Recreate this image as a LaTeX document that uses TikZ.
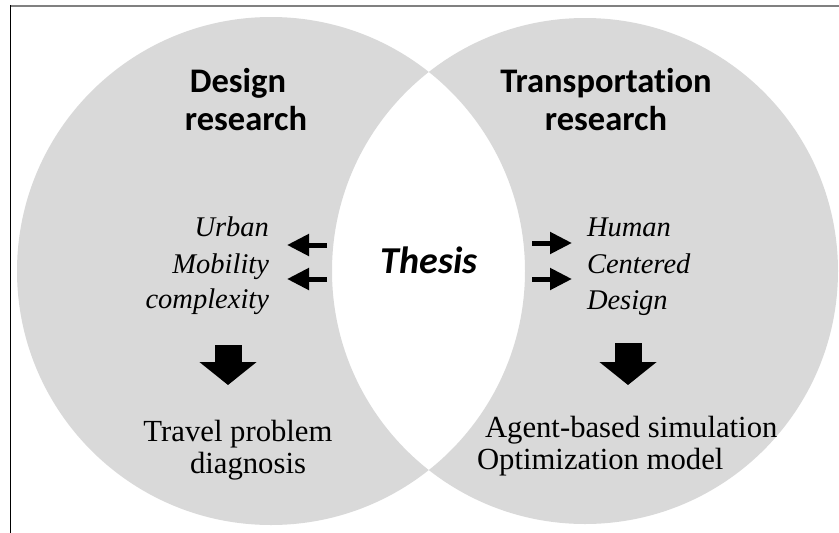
\documentclass[tikz,border=0pt]{standalone}
\usepackage{fontspec}
\setmainfont{Liberation Serif}
\newfontfamily\calib[Ligatures=NoCommon]{Carlito}
\usetikzlibrary{arrows.meta}
\definecolor{venn}{HTML}{D9D9D9}
\definecolor{framegray}{HTML}{808080}
\begin{document}
\begin{tikzpicture}[x=1pt,y=-1pt,
  every node/.style={inner sep=0pt, outer sep=0pt},
  headtxt/.style={font=\calib\bfseries\fontsize{34.5}{40}\selectfont, anchor=base},
  thesistxt/.style={font=\calib\bfseries\itshape\fontsize{38}{44}\selectfont, anchor=base},
  ittxt/.style={font=\itshape\fontsize{28.5}{34}\selectfont},
  rmtxt/.style={font=\fontsize{30.7}{36}\selectfont},
  smallarrow/.style={line width=5pt, -{Triangle[length=22pt,width=21pt]}},
  bigarrow/.style={line width=27pt, -{Triangle[length=23pt,width=56pt]}}]
\useasboundingbox (0,0) rectangle (839,533);
% frame
\draw[framegray, line width=2pt] (10,5.5) -- (839,5.5);
\draw[black, line width=1.5pt] (10.5,5) -- (10.5,533);
% circles
\fill[venn, even odd rule] (271,271) circle[radius=254pt] (585,271) circle[radius=253pt];
% headings
\node[headtxt] (dr1) at (238,92) {Design};
\node[headtxt] (dr2) at (246,130) {research};
\node[headtxt] (tr1) at (606,92) {Transportation};
\node[headtxt] (tr2) at (606,130) {research};
% thesis
\node[thesistxt] (thesis) at (429,273) {Thesis};
% left italic
\node[ittxt, anchor=base east] (u1) at (269,236) {Urban};
\node[ittxt, anchor=base east] (u2) at (269,273) {Mobility};
\node[ittxt, anchor=base east] (u3) at (269,308) {complexity};
% right italic
\node[ittxt, anchor=base west] (h1) at (587,236) {Human};
\node[ittxt, anchor=base west] (h2) at (587,273) {Centered};
\node[ittxt, anchor=base west] (h3) at (587,309) {Design};
% bottom texts
\node[rmtxt, anchor=base] (tp1) at (238,441) {Travel problem};
\node[rmtxt, anchor=base] (tp2) at (248,473) {diagnosis};
\node[rmtxt, anchor=base west] (ab1) at (485,437) {Agent-based simulation};
\node[rmtxt, anchor=base west] (ab2) at (477,469) {Optimization model};
% arrow end points
\coordinate (la1s) at (327,245); \coordinate (la1e) at (287,245);
\coordinate (la2s) at (327,279); \coordinate (la2e) at (287,279);
\coordinate (ra1s) at (532,243); \coordinate (ra1e) at (572,243);
\coordinate (ra2s) at (532,279); \coordinate (ra2e) at (572,279);
\coordinate (lbs) at (228,345); \coordinate (lbe) at (228,385);
\coordinate (rbs) at (628,343); \coordinate (rbe) at (628,385);
\draw[smallarrow] (la1s) -- (la1e);
\draw[smallarrow] (la2s) -- (la2e);
\draw[smallarrow] (ra1s) -- (ra1e);
\draw[smallarrow] (ra2s) -- (ra2e);
\draw[bigarrow] (lbs) -- (lbe);
\draw[bigarrow] (rbs) -- (rbe);
\end{tikzpicture}
\end{document}
